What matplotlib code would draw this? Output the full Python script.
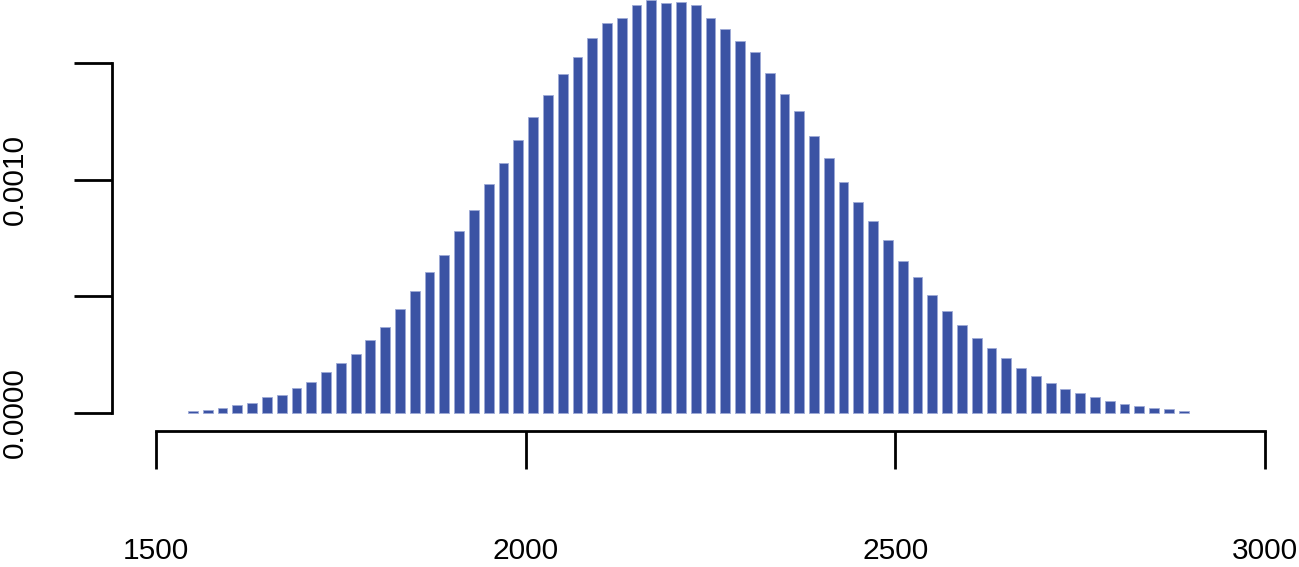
import matplotlib
matplotlib.use("Agg")
import matplotlib.pyplot as plt
import numpy as np

# Bin centres (width 20) and densities
bin_start = 1550
bin_step = 20
density = [
    0.000005, 0.0000094, 0.000018, 0.000031, 0.000042, 0.000065, 0.000075, 0.000105,
    0.000132, 0.000173, 0.000212, 0.000252, 0.000311, 0.000368, 0.000444, 0.000520,
    0.000605, 0.000677, 0.000778, 0.000871, 0.000981, 0.001072, 0.001170, 0.001270,
    0.001362, 0.001451, 0.001524, 0.001608, 0.001670, 0.001694, 0.001747, 0.001770,
    0.001758, 0.001763, 0.001750, 0.001692, 0.001647, 0.001595, 0.001548, 0.001458,
    0.001365, 0.001293, 0.001185, 0.001094, 0.000991, 0.000904, 0.000824, 0.000741,
    0.000651, 0.000583, 0.000505, 0.000435, 0.000376, 0.000318, 0.000275, 0.000232,
    0.000192, 0.000157, 0.000127, 0.000103, 0.0000845, 0.0000673, 0.0000485, 0.0000373,
    0.0000287, 0.0000185, 0.0000129, 0.0000056,
]
centers = [bin_start + i * bin_step for i in range(len(density))]

x_ticks = [1500, 2000, 2500, 3000]
x_labels = ["1500", "2000", "2500", "3000"]
y_ticks = [0.0, 0.0005, 0.0010, 0.0015]
y_labels = ["0.0000", "", "0.0010", ""]

W, H = 1299, 567
DPI = 100
fig = plt.figure(figsize=(W / DPI, H / DPI), dpi=DPI)
plt.rcParams["font.family"] = ["Liberation Sans", "DejaVu Sans"]

# pixel geometry
x0_px, x1_px = 156, 1265
y0_px = 412.5
px_per_y = 233000.0
ytop = 0.0018
ax = fig.add_axes([x0_px / W, (H - y0_px) / H, (x1_px - x0_px) / W, ytop * px_per_y / H])
ax.set_xlim(1500, 3000)
ax.set_ylim(0, ytop)

ax.bar(centers, density, width=13.3, color="#3B53A4", edgecolor="#9eaad6",
       linewidth=0.6, clip_on=False)

pt = 72.0 / DPI
for s in ["top", "right"]:
    ax.spines[s].set_visible(False)
ax.spines["left"].set_position(("outward", 44 * pt))
ax.spines["bottom"].set_position(("outward", 18.5 * pt))
ax.spines["left"].set_bounds(0, 0.0015)
ax.spines["bottom"].set_bounds(1500, 3000)
for s in ["left", "bottom"]:
    ax.spines[s].set_linewidth(2.0)
    ax.spines[s].set_color("black")

ax.set_xticks(x_ticks)
ax.set_xticklabels(x_labels)
ax.set_yticks(y_ticks)
ax.set_yticklabels(y_labels, rotation=90, va="center")
ax.tick_params(axis="x", length=38 * pt, width=2.0, pad=68 * pt, labelsize=21.5)
ax.tick_params(axis="y", length=38 * pt, width=2.0, pad=45 * pt, labelsize=21.5)

fig.savefig("out.png", dpi=DPI)
